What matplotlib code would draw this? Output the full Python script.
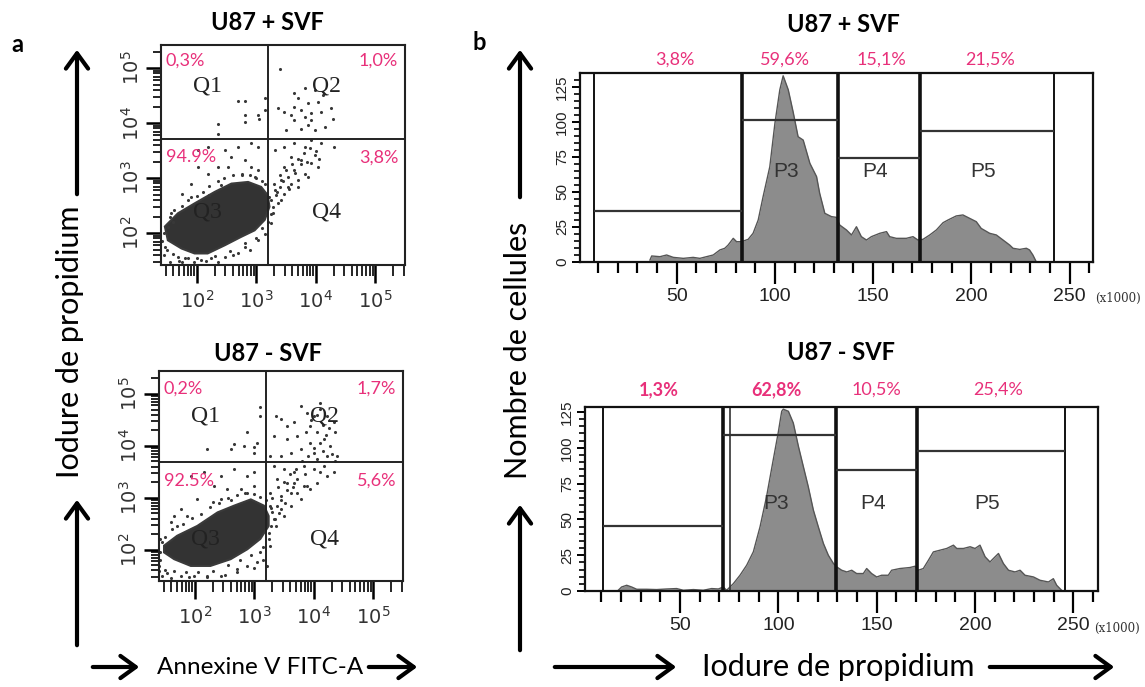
import matplotlib
matplotlib.use('Agg')
import matplotlib.pyplot as plt
from matplotlib.patches import FancyArrowPatch
from matplotlib.transforms import blended_transform_factory
import numpy as np

plt.rcParams['font.family'] = ['Lato', 'DejaVu Sans']

# ---------------- panel a : annexine V / iodure de propidium (log10 units) ----------------
titles = ['U87 + SVF', 'U87 - SVF']
quad_x = [3.20, 3.19]
quad_y = [3.72, 3.68]
quad_pct = [['0,3%', '1,0%', '94.9%', '3,8%'],
            ['0,2%', '1,7%', '92.5%', '5,6%']]

# contour of the dense population (Q3)
dense_top_x = [1.46, 1.68, 1.96, 2.30, 2.58, 2.86, 3.08, 3.19, 3.22, 3.14, 2.97, 2.74, 2.47, 2.18, 1.96, 1.74, 1.51]
dense_top_y = [2.12, 2.36, 2.54, 2.75, 2.90, 2.93, 2.84, 2.69, 2.48, 2.24, 2.05, 1.93, 1.78, 1.63, 1.63, 1.72, 1.87]
dense_bot_x = [1.48, 1.70, 2.04, 2.38, 2.66, 2.94, 3.16, 3.24, 3.24, 3.10, 2.88, 2.60, 2.26, 1.93, 1.65, 1.48]
dense_bot_y = [2.08, 2.27, 2.46, 2.72, 2.85, 2.97, 2.85, 2.65, 2.46, 2.21, 2.01, 1.82, 1.69, 1.69, 1.82, 1.95]

# isolated events
pts_top_x = [2.69, 2.80, 3.14, 2.80, 2.80, 3.03, 3.05, 2.35, 2.35, 3.14,
             3.39, 3.64, 3.81, 3.98, 3.70, 3.87, 4.03, 4.12, 3.36, 3.47, 3.59, 3.75, 3.92, 4.09, 4.26,
             4.29, 3.64, 3.87, 3.98, 4.15, 3.75, 3.50, 3.92, 3.64, 3.81,
             3.31, 3.47, 3.64, 3.81, 3.92, 4.09, 4.31, 3.59, 3.75, 3.92, 4.03, 3.47, 3.64, 3.81, 3.42,
             3.59, 3.31, 3.47, 3.70, 3.87, 3.98, 3.25, 3.36, 3.28, 3.25, 3.53, 3.70,
             3.22, 3.33, 3.39, 3.53, 3.28, 3.42,
             2.02, 2.18, 2.47, 2.69, 2.91, 3.03, 2.58, 2.80, 2.91, 3.03, 2.35, 2.18, 1.90, 1.74, 2.75,
             2.97, 1.57, 1.51, 1.46, 1.68, 1.85, 2.07, 2.24, 2.47, 2.69, 2.80, 3.03, 3.14, 2.52, 2.02]
pts_top_y = [4.40, 4.40, 4.45, 4.15, 4.02, 4.15, 4.08, 3.99, 3.81, 4.24,
             4.99, 4.54, 4.63, 4.60, 4.45, 4.36, 4.39, 4.51, 4.27, 4.21, 4.15, 4.24, 4.18, 4.21, 4.27,
             4.08, 4.05, 3.96, 3.87, 3.93, 3.90, 3.88, 4.05, 4.30, 4.12,
             3.51, 3.57, 3.63, 3.57, 3.69, 3.63, 3.57, 3.39, 3.33, 3.27, 3.21, 3.21, 3.15, 3.08, 2.96,
             2.90, 2.78, 2.72, 2.84, 3.02, 3.42, 2.60, 2.54, 2.36, 2.18, 3.02, 2.96,
             2.66, 2.69, 2.84, 2.84, 2.48, 2.60,
             3.51, 3.57, 3.51, 3.57, 3.63, 3.57, 3.39, 3.33, 3.21, 3.15, 3.21, 3.08, 2.90, 2.72, 3.08,
             3.02, 2.36, 2.12, 1.75, 1.57, 1.54, 1.51, 1.54, 1.57, 1.63, 1.75, 1.87, 1.99, 3.21, 3.21]
# events around the edge of the dense cloud and along the diagonal
halo_top_x = [1.55, 1.62, 1.75, 1.85, 2.00, 2.10, 2.20, 2.35, 2.45, 2.60, 2.75, 2.90, 3.00, 3.10,
              3.15, 2.40, 2.20, 1.90, 1.60, 1.45, 1.50, 1.60, 1.80, 2.00, 2.30, 2.55, 2.80, 3.00,
              3.10, 3.20, 3.25, 1.42, 1.45, 1.70, 2.15, 2.60, 2.90, 1.95, 1.55, 1.75, 2.35,
              3.30, 3.40, 3.50, 3.60, 3.70, 3.80, 3.90, 3.35, 3.45, 3.55, 3.65, 3.75, 3.85, 4.00, 4.05]
halo_top_y = [2.30, 2.42, 2.50, 2.60, 2.68, 2.75, 2.85, 2.95, 3.00, 3.05, 3.05, 3.05, 3.00, 2.95,
              2.90, 2.88, 2.70, 2.66, 2.20, 2.00, 1.70, 1.62, 1.55, 1.55, 1.58, 1.68, 1.82, 1.92,
              2.10, 2.20, 2.35, 1.85, 1.60, 1.50, 1.50, 1.60, 1.70, 1.47, 1.48, 1.48, 1.47,
              2.90, 3.05, 3.15, 3.25, 3.35, 3.45, 3.55, 2.75, 2.95, 2.80, 3.10, 3.25, 3.30, 3.50, 3.35]
pts_bot_x = [3.10, 3.10, 3.05, 2.99, 2.82, 2.66, 2.60, 2.21, 2.88, 2.99,
             3.36, 3.44, 3.55, 3.66, 3.78, 3.89, 4.00, 4.11, 4.22, 4.34, 3.94, 4.06, 4.17, 4.28,
             4.39, 3.94, 3.78, 3.61, 3.44, 3.27, 3.33, 3.55, 4.22, 4.11, 3.86, 3.72, 4.36, 4.00,
             3.33, 3.50, 3.66, 3.83, 4.00, 4.17, 4.34, 3.38, 3.55, 3.72, 3.89, 4.06, 4.22, 3.27,
             3.44, 3.61, 3.78, 3.94, 3.27, 3.44, 3.61, 3.33, 3.50, 3.24, 3.27, 3.22, 3.66, 4.11,
             3.30, 3.38, 3.36, 3.52, 3.72, 3.83,
             1.93, 2.15, 2.43, 2.66, 2.88, 2.99, 2.32, 2.54, 2.77, 2.99, 2.04, 1.76, 1.59, 1.42,
             1.42, 1.39, 1.53, 1.76, 1.98, 2.21, 2.43, 2.71, 2.88, 3.05, 3.10, 1.87, 1.65, 2.43, 2.88]
pts_bot_y = [4.74, 4.58, 4.06, 3.97, 4.00, 4.03, 3.94, 3.94, 4.26, 3.87,
             4.58, 4.51, 4.38, 4.45, 4.77, 4.64, 4.58, 4.71, 4.58, 4.45, 4.38, 4.26, 4.13, 4.00,
             3.81, 4.06, 3.94, 3.87, 3.81, 3.81, 4.19, 4.13, 3.81, 4.83, 4.26, 4.19, 4.26, 3.87,
             3.62, 3.55, 3.49, 3.62, 3.55, 3.62, 3.49, 3.36, 3.29, 3.36, 3.23, 3.29, 3.42, 3.10,
             3.04, 3.10, 2.97, 3.17, 2.85, 2.78, 2.85, 2.59, 2.65, 2.33, 2.08, 1.69, 3.29, 3.49,
             2.72, 2.85, 2.46, 2.91, 3.10, 3.23,
             3.42, 3.49, 3.42, 3.55, 3.42, 3.49, 3.23, 3.17, 3.17, 3.23, 2.97, 2.78, 2.53, 2.21,
             1.95, 1.69, 1.56, 1.50, 1.50, 1.50, 1.50, 1.63, 1.69, 1.76, 1.95, 2.65, 2.65, 2.97, 3.10]
halo_bot_x = [1.50, 1.62, 1.80, 1.95, 2.10, 2.25, 2.40, 2.55, 2.70, 2.85, 3.00, 3.10, 3.20, 3.28,
              2.30, 2.60, 1.70, 1.45, 1.42, 1.50, 1.65, 1.85, 2.05, 2.30, 2.55, 2.75, 2.95, 3.15,
              3.25, 3.28, 1.45, 1.60, 1.90, 2.20, 2.50, 2.70, 3.00, 3.15, 1.40,
              3.30, 3.40, 3.50, 3.60, 3.70, 3.80, 3.90, 4.00, 4.10, 4.20, 4.25, 3.95, 4.05, 4.15,
              3.45, 3.55, 3.65, 3.85, 4.05, 4.15, 4.30, 4.35, 3.35, 3.42]
halo_bot_y = [2.25, 2.40, 2.50, 2.62, 2.68, 2.82, 2.90, 3.00, 3.05, 3.10, 3.08, 3.02, 2.95, 2.80,
              2.92, 2.95, 2.45, 2.15, 1.80, 1.62, 1.60, 1.58, 1.58, 1.60, 1.70, 1.80, 1.90, 2.05,
              2.20, 2.45, 1.50, 1.45, 1.47, 1.47, 1.52, 1.58, 1.65, 1.80, 1.60,
              3.00, 3.20, 3.30, 3.45, 3.55, 3.70, 3.80, 3.95, 4.05, 4.20, 4.35, 4.50, 4.60, 4.40,
              2.95, 3.15, 3.20, 3.45, 3.75, 3.90, 3.85, 3.70, 2.60, 2.70]

# ---------------- panel b : cycle cellulaire ----------------
# DNA content (x1000) / number of cells
hist_top_x = [36.4, 37.3, 41.5, 44.9, 48.3, 53.4, 58.4, 61.8, 65.2, 68.6, 72.0, 74.5, 76.2, 78.8,
              80.5, 83.0, 86.4, 88.9, 91.5, 94.0, 97.4, 100.0, 102.5, 104.2, 106.8, 109.3, 111.8,
              114.4, 117.8, 121.2, 122.8, 125.4, 128.8, 131.3, 133.0, 136.4, 139.0, 141.5, 144.0,
              146.6, 149.1, 153.4, 156.8, 158.4, 161.8, 166.9, 170.3, 172.8, 175.4, 178.8, 182.2,
              185.6, 188.1, 192.3, 195.7, 199.1, 202.5, 205.0, 209.3, 212.7, 216.1, 219.5, 221.2,
              224.6, 228.0, 229.6, 231.3, 233.0]
hist_top_y = [1.4, 4.3, 3.8, 5.0, 3.3, 2.6, 3.3, 2.6, 3.8, 5.0, 8.6, 9.8, 12.1, 16.9,
              14.5, 14.5, 16.2, 20.5, 30.0, 46.7, 68.0, 99.0, 123.0, 133.0, 123.0, 107.0, 89.5,
              87.1, 70.5, 61.0, 49.0, 34.8, 32.4, 31.9, 26.4, 22.9, 19.3, 25.2, 18.1,
              15.7, 18.1, 20.5, 21.7, 18.1, 16.9, 16.9, 18.1, 15.7, 16.2, 19.3, 22.9,
              28.1, 30.0, 32.9, 33.6, 31.2, 28.8, 24.0, 20.5, 19.3, 15.7, 12.1, 9.8,
              9.0, 9.8, 8.6, 5.0, 0.2]
hist_bot_x = [18.6, 20.3, 22.9, 25.4, 28.0, 33.0, 38.1, 43.2, 48.3, 51.7, 56.8, 61.8, 66.1, 69.5,
              72.0, 73.7, 77.1, 80.5, 83.9, 87.3, 90.7, 94.0, 97.4, 99.9, 101.7, 102.5, 105.1,
              107.6, 110.2, 112.7, 115.2, 117.8, 120.3, 122.9, 125.4, 128.0, 129.7, 132.2, 134.8,
              137.3, 139.8, 143.2, 144.9, 147.4, 150.0, 152.5, 155.9, 157.6, 161.8, 166.9, 169.5,
              171.2, 173.7, 176.3, 178.8, 182.2, 185.6, 189.0, 190.7, 194.1, 197.5, 200.0, 202.5,
              205.1, 207.6, 210.2, 211.9, 214.4, 217.0, 220.3, 222.9, 225.4, 229.7, 233.0, 237.3,
              239.8, 241.5, 244.0]
hist_bot_y = [0.5, 2.8, 4.0, 2.8, 1.2, 1.2, 1.0, 1.4, 1.7, 0.5, 1.0, 0.5, 1.7, 1.4,
              2.8, 0.5, 5.1, 11.0, 18.0, 27.4, 44.9, 65.9, 91.6, 110.3, 125.5, 127.0, 125.5,
              117.3, 101.0, 86.9, 72.9, 56.5, 44.9, 33.2, 25.0, 19.2, 16.8, 14.5, 13.3,
              14.5, 12.2, 12.2, 15.7, 12.2, 9.8, 11.0, 11.0, 14.5, 15.7, 16.4, 17.3,
              14.5, 15.7, 21.5, 27.3, 28.5, 29.7, 32.0, 29.7, 29.7, 30.9, 29.7, 32.0,
              23.9, 20.3, 23.9, 26.2, 19.2, 14.5, 13.3, 14.5, 11.0, 9.8, 7.5, 6.3,
              8.6, 4.0, 0.5]

# gates: left edge, right edge, height
gate_top_left = [7.9, 83.0, 132.2, 174.1]
gate_top_right = [83.0, 132.2, 174.1, 241.9]
gate_top_h = [36.4, 101.4, 74.5, 93.8]
gate_bot_left = [11.0, 72.0, 129.4, 170.7]
gate_bot_right = [72.0, 129.4, 170.7, 245.8]
gate_bot_h = [45.5, 108.6, 84.6, 97.9]
gate_names = ['P3', 'P4', 'P5']
pct_top = ['3,8%', '59,6%', '15,1%', '21,5%']
pct_bot = ['1,3%', '62,8%', '10,5%', '25,4%']
pct_top_x = [49, 105, 154.3, 209.4]
pct_bot_x = [39, 99.2, 150, 211.9]

PINK = '#e8307a'
NARROW = ['Liberation Sans Narrow', 'Liberation Sans', 'DejaVu Sans']
DOT = dict(s=5, marker='o', color='#383838', lw=0)

W, H = 1145, 687
fig = plt.figure(figsize=(W / 100, H / 100), dpi=100)


def box(l, t, r, b):
    return [l / W, 1 - b / H, (r - l) / W, (b - t) / H]


def scatter_panel(rect, ylim, dx, dy, px, py, qx, qy, pct, pct_y, q_y):
    ax = fig.add_axes(rect)
    ax.fill(dx, dy, color='#333333', lw=1.5, ec='#3a3a3a')
    ax.scatter(px, py, **DOT)
    ax.axvline(qx, color='#222', lw=1.4)
    ax.axhline(qy, color='#222', lw=1.4)
    ax.set_xlim(1.395, 5.50)
    ax.set_ylim(*ylim)
    dec = [2, 3, 4, 5]
    minor = [np.log10(k * 10 ** n) for n in range(1, 6) for k in range(2, 10)]
    ax.set_xticks(dec)
    ax.set_xticklabels(['$10^{%d}$' % d for d in dec], fontsize=14, color='#333')
    ax.set_yticks(dec)
    ax.set_yticklabels(['$10^{%d}$' % d for d in dec], fontsize=14, color='#333',
                       rotation=90, va='center')
    ax.set_xticks([m for m in minor if 1.4 < m < 5.48], minor=True)
    ax.set_yticks([m for m in minor if ylim[0] < m < ylim[1]], minor=True)
    ax.tick_params(which='major', direction='out', length=13, width=1.8, pad=4)
    ax.tick_params(axis='y', which='major', length=11, pad=3)
    ax.tick_params(which='minor', direction='out', length=8, width=1.2)
    ax.tick_params(axis='y', which='minor', length=6)
    for s in ax.spines.values():
        s.set_linewidth(1.5)
        s.set_color('#222')
    ax.text(0.02, pct_y[0], pct[0], transform=ax.transAxes, color=PINK, fontsize=13, va='center')
    ax.text(0.972, pct_y[0], pct[1], transform=ax.transAxes, color=PINK, fontsize=13,
            va='center', ha='right')
    ax.text(0.02, pct_y[1], pct[2], transform=ax.transAxes, color=PINK, fontsize=13, va='center')
    ax.text(0.972, pct_y[1], pct[3], transform=ax.transAxes, color=PINK, fontsize=13,
            va='center', ha='right')
    for lab, xf, yf in zip(['Q1', 'Q2', 'Q3', 'Q4'], [0.19, 0.677, 0.19, 0.677],
                           [q_y[0], q_y[0], q_y[1], q_y[1]]):
        ax.text(xf, yf, lab, transform=ax.transAxes, family=['Liberation Serif', 'DejaVu Serif'],
                fontsize=17, color='#222', ha='center', va='center')
    return ax


ax1 = scatter_panel(box(161, 45, 405, 265), (1.42, 5.42), dense_top_x, dense_top_y,
                    pts_top_x, pts_top_y, quad_x[0], quad_y[0], quad_pct[0], (0.93, 0.49),
                    (0.815, 0.242))
ax1.scatter(halo_top_x, halo_top_y, **DOT)
ax2 = scatter_panel(box(159, 371, 403, 581), (1.40, 5.44), dense_bot_x, dense_bot_y,
                    pts_bot_x, pts_bot_y, quad_x[1], quad_y[1], quad_pct[1], (0.916, 0.476),
                    (0.788, 0.2))
ax2.scatter(halo_bot_x, halo_bot_y, **DOT)


def hist_panel(rect, xlim, ylim, hx, hy, gl, gr, gh, pct, pct_x, pct_y, bold_n, lab_y, dbl):
    ax = fig.add_axes(rect)
    ax.fill_between(hx, 0, hy, color='#8c8c8c', lw=0)
    ax.plot(hx, hy, color='#555555', lw=1)
    edges = [gl[0]] + gr
    for i, e in enumerate(edges):
        thick = 0 < i < len(edges) - 1
        ax.axvline(e, color='#111', lw=2.6 if thick else 1.4)
    if dbl:
        ax.axvline(gr[0] + 3.5, color='#333', lw=1.2)
    for a, b, h in zip(gl, gr, gh):
        ax.hlines(h, a, b, color='#333', lw=1.6)
    for name, a, b in zip(gate_names, gl[1:], gr[1:]):
        ax.text((a + b) / 2 - 2, lab_y, name, family=NARROW, fontsize=15, color='#333',
                ha='center', va='center')
    tr = blended_transform_factory(ax.transData, ax.transAxes)
    for i, (t, x) in enumerate(zip(pct, pct_x)):
        ax.text(x, pct_y, t, transform=tr, color=PINK, fontsize=13, ha='center', va='center',
                fontweight='bold' if i < bold_n else 'normal')
    ax.set_xlim(*xlim)
    ax.set_ylim(*ylim)
    ax.set_xticks([50, 100, 150, 200, 250])
    ax.set_xticklabels(['50', '100', '150', '200', '250'], family=NARROW, fontsize=14,
                       color='#222')
    ax.set_xticks(np.arange(10, 261, 10), minor=True)
    ax.set_yticks([0, 25, 50, 75, 100, 125])
    ax.set_yticklabels(['0', '25', '50', '75', '100', '125'], family=NARROW, fontsize=11,
                       color='#222', rotation=90, va='center')
    ax.set_yticks(np.arange(0, ylim[1], 5), minor=True)
    ax.tick_params(axis='x', which='major', direction='out', length=16, width=1.6, pad=3)
    ax.tick_params(axis='x', which='minor', direction='out', length=8, width=1.6)
    ax.tick_params(axis='y', which='major', direction='out', length=6, width=1.4, pad=2)
    ax.tick_params(axis='y', which='minor', direction='out', length=4, width=1.2)
    for s in ax.spines.values():
        s.set_linewidth(1.6)
        s.set_color('#111')
    return ax


ax_t = hist_panel(box(580, 73, 1093, 262), (0.8, 261.9), (0, 135), hist_top_x, hist_top_y,
                  gate_top_left, gate_top_right, gate_top_h, pct_top, pct_top_x, 1.069, 0, 64.5,
                  False)
ax_b = hist_panel(box(585, 407, 1098, 591), (1.7, 262.5), (0, 128.5), hist_bot_x, hist_bot_y,
                  gate_bot_left, gate_bot_right, gate_bot_h, pct_bot, pct_bot_x, 1.092, 2, 61.2,
                  True)


def ftext(x, y, s, **kw):
    fig.text(x / W, 1 - y / H, s, ha='center', va='center', **kw)


def farrow(x0, y0, x1, y1):
    fig.add_artist(FancyArrowPatch((x0 / W, 1 - y0 / H), (x1 / W, 1 - y1 / H),
                                   transform=fig.transFigure,
                                   arrowstyle='->,head_length=0.55,head_width=0.4',
                                   mutation_scale=20, lw=3, color='black'))


ftext(1118, 298, '(x1000)', family=['DejaVu Serif'], fontsize=8.5, color='#333')
ftext(1117, 628, '(x1000)', family=['DejaVu Serif'], fontsize=8.5, color='#333')

ftext(267, 23, titles[0], fontsize=17, fontweight='bold')
ftext(268, 353, titles[1], fontsize=17, fontweight='bold')
ftext(843, 25, titles[0], fontsize=17, fontweight='bold')
ftext(841, 352, titles[1], fontsize=17, fontweight='bold')
ftext(17, 44, 'a', fontsize=17, fontweight='bold')
ftext(479, 42, 'b', fontsize=17, fontweight='bold')

ftext(70, 342, 'Iodure de propidium', fontsize=22, rotation=90)
ftext(518, 350, 'Nombre de cellules', fontsize=22, rotation=90)
ftext(260, 667, 'Annexine V FITC-A', fontsize=17.5)
ftext(838, 667, 'Iodure de propidium', fontsize=22)

farrow(77, 197, 77, 47)
farrow(77, 648, 77, 497)
farrow(90, 667, 142, 667)
farrow(366, 667, 420, 667)
farrow(520, 200, 520, 47)
farrow(520, 653, 520, 502)
farrow(552, 667, 679, 667)
farrow(987, 667, 1117, 667)

fig.savefig('out.png', dpi=100)
